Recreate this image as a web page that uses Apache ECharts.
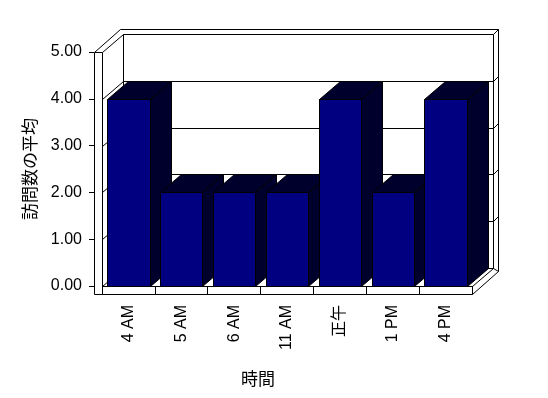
<!DOCTYPE html>
<html>
<head>
<meta charset="utf-8">
<script src="https://cdn.jsdelivr.net/npm/echarts@6/dist/echarts.min.js"></script>
<style>
	html, body { margin: 0; padding: 0; background: #fff; }
	#chart { width: 548px; height: 398px; }
</style>
</head>
<body>
<div id="chart"></div>
<script>
// data
const categories = ['4 AM', '5 AM', '6 AM', '11 AM', '正午', '1 PM', '4 PM'];
const visits = [4, 2, 2, 2, 4, 2, 4];
const yMin = 0;
const yMax = 5;
const yStep = 1;

const FRONT = '#000080';
const SIDE = '#00002c';
const DEPTH = [21, -18];   // front plane -> back wall
const OUTER = [26, -23];   // front plane -> outer edge of back wall
const WALL = 8;            // thickness of left wall and floor

const px = (v) => Math.round(v) + 0.5;
const line = (x1, y1, x2, y2) => ({
	type: 'line',
	shape: { x1: x1, y1: y1, x2: x2, y2: y2 },
	style: { stroke: '#000', lineWidth: 1 }
});
const poly = (points, fill) => ({
	type: 'polygon',
	shape: { points: points },
	style: { fill: fill, stroke: '#000', lineWidth: 1 }
});

function renderWalls(params, api) {
	const bw = api.size([1, 0])[0];
	const pL = px(api.coord([0, yMin])[0] - bw / 2);
	const pR = px(api.coord([categories.length - 1, yMin])[0] + bw / 2);
	const y0 = px(api.coord([0, yMin])[1]);
	const yT = px(api.coord([0, yMax])[1]);
	const [dx, dy] = DEPTH;
	const [ox, oy] = OUTER;

	const children = [
		// whole silhouette
		poly([
			[pL - WALL, yT], [pL - WALL + ox, yT + oy], [pR + ox, yT + oy],
			[pR + ox, y0 + WALL + oy], [pR, y0 + WALL], [pL - WALL, y0 + WALL]
		], '#fff'),
		// back wall
		poly([
			[pL + dx, yT + dy], [pR + dx, yT + dy], [pR + dx, y0 + dy], [pL + dx, y0 + dy]
		], '#fff'),
		// left wall front face + floor front face
		line(pL - WALL, yT, pL, yT),
		line(pL, yT, pL, y0),
		line(pL, y0, pR, y0),
		line(pR, y0, pR, y0 + WALL),
		// wall / floor edges going back
		line(pL, yT, pL + dx, yT + dy),
		line(pL, y0, pL + dx, y0 + dy),
		line(pR, y0, pR + dx, y0 + dy),
		line(pR + dx, yT + dy, pR + ox, yT + oy),
		line(pR + dx, y0 + dy, pR + ox, y0 + WALL + oy)
	];

	// gridlines on the walls
	for (let v = yMin + yStep; v < yMax; v += yStep) {
		const y = px(api.coord([0, v])[1]);
		children.push(line(pL, y, pL + dx, y + dy));
		children.push(line(pL + dx, y + dy, pR + dx, y + dy));
		children.push(line(pR + dx, y + dy, pR + ox, y + oy));
	}

	return { type: 'group', children: children };
}

function renderBar(params, api) {
	const i = api.value(0);
	const top = api.coord([i, api.value(1)]);
	const base = api.coord([i, yMin]);
	const half = api.size([1, 0])[0] * 0.4;
	const xL = px(top[0] - half);
	const xR = px(top[0] + half);
	const yT = px(top[1]);
	const yB = px(base[1]);
	const [dx, dy] = DEPTH;

	return {
		type: 'group',
		children: [
			poly([[xR, yT], [xR + dx, yT + dy], [xR + dx, yB + dy], [xR, yB]], SIDE),
			poly([[xL, yT], [xR, yT], [xR + dx, yT + dy], [xL + dx, yT + dy]], SIDE),
			poly([[xL, yT], [xR, yT], [xR, yB], [xL, yB]], FRONT)
		]
	};
}

const chart = echarts.init(document.getElementById('chart'), null, { renderer: 'canvas' });

chart.setOption({
	animation: false,
	backgroundColor: '#fff',
	textStyle: {
		fontFamily: "'Liberation Sans', 'Noto Sans CJK JP', sans-serif",
		color: '#000'
	},
	grid: {
		left: 102,
		right: 76,
		top: 52,
		bottom: 112,
		outerBoundsMode: 'none'
	},
	xAxis: {
		type: 'category',
		data: categories,
		z: 10,
		name: '時間',
		nameLocation: 'middle',
		nameGap: 84,
		nameTextStyle: {
			fontFamily: "'Noto Sans CJK JP', sans-serif",
			fontSize: 17,
			color: '#000',
			padding: [0, 58, 0, 0]
		},
		axisLine: { show: false },
		axisTick: { show: true, length: WALL, lineStyle: { color: '#000' } },
		axisLabel: {
			rotate: 90,
			margin: 19,
			fontSize: 16,
			color: '#000'
		},
		splitLine: { show: false }
	},
	yAxis: {
		type: 'value',
		min: yMin,
		max: yMax,
		interval: yStep,
		offset: WALL,
		z: 10,
		name: '訪問数の平均',
		nameLocation: 'middle',
		nameGap: 56,
		nameTextStyle: {
			fontFamily: "'Noto Sans CJK JP', sans-serif",
			fontSize: 17,
			color: '#000'
		},
		axisLine: { show: false },
		axisTick: { show: true, length: 5, lineStyle: { color: '#000' } },
		axisLabel: {
			margin: 12,
			fontSize: 16,
			color: '#000',
			formatter: (v) => v.toFixed(2)
		},
		splitLine: { show: false }
	},
	series: [
		{
			type: 'custom',
			name: 'walls',
			z: 1,
			silent: true,
			data: [[0, 0]],
			encode: { x: 0, y: 1 },
			renderItem: renderWalls
		},
		{
			type: 'custom',
			name: '訪問数の平均',
			z: 2,
			data: visits.map((v, i) => [i, v]),
			encode: { x: 0, y: 1 },
			renderItem: renderBar
		}
	]
});
</script>
</body>
</html>
